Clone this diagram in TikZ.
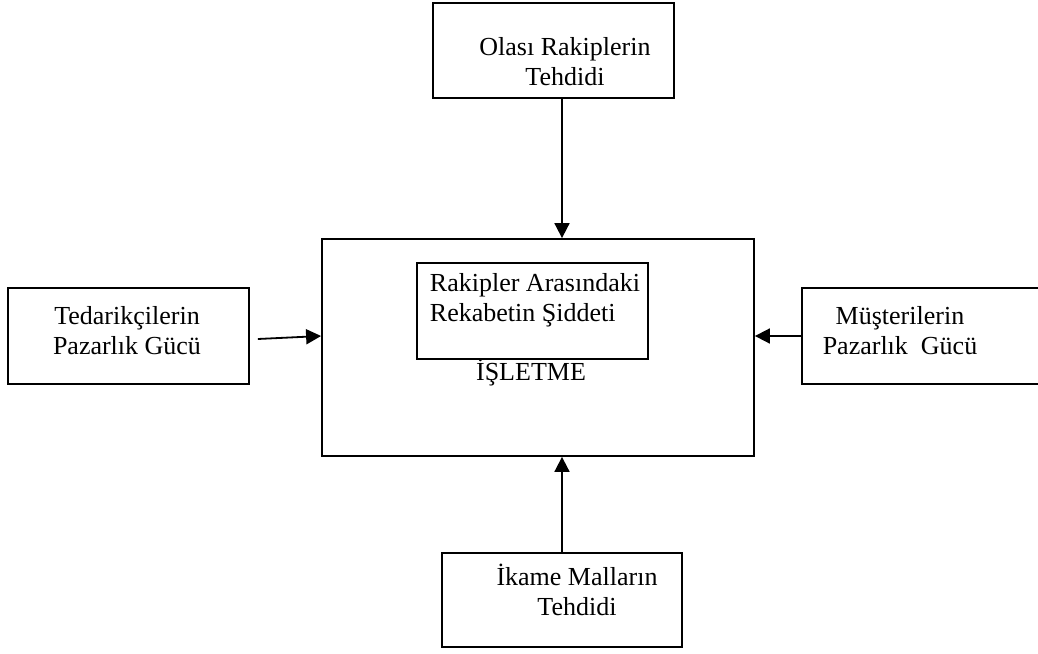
\documentclass[tikz,border=0pt]{standalone}
\usepackage{fontspec}
\setmainfont{Liberation Serif}
\usepackage{tikz}
\usetikzlibrary{arrows.meta,positioning}

\begin{document}
\begin{tikzpicture}[
  x=1pt, y=-1pt,
  font=\fontsize{26}{30}\selectfont,
  >={Triangle[length=15pt, width=15pt]},
  box/.style={draw=black, line width=1.8pt, inner sep=0pt},
  lab/.style={align=center, inner sep=0pt},
  flow/.style={->, line width=1.8pt},
]
\useasboundingbox (0,0) rectangle (1038,653);
% center: firm with the rivalry inside
\node[box, minimum width=432pt, minimum height=217pt] (isletme) at (538,347.5) {};
\node[box, minimum width=231pt, minimum height=96pt] (rekabet) at (532.5,311) {};
\node[lab, align=left] (rekabetlab) at (535,300) {Rakipler Arasındaki\\Rekabetin Şiddeti};
\node[lab] (isletmelab) at (531,373) {İŞLETME};

% the four outer forces
\node[box, minimum width=241pt, minimum height=95pt] (rakip) at (553.5,50.5) {};
\node[lab] (rakiplab) at (565,62) {Olası Rakiplerin\\Tehdidi};
\node[box, minimum width=241pt, minimum height=96pt] (tedarik) at (128.5,336) {};
\node[lab] (tedariklab) at (127,331) {Tedarikçilerin\\Pazarlık Gücü};
\node[box, minimum width=241pt, minimum height=96pt] (musteri) at (922.5,336) {};
\node[lab] (musterilab) at (900,331) {Müşterilerin\\Pazarlık\ \ Gücü};
\node[box, minimum width=240pt, minimum height=94pt] (ikame) at (562,600) {};
\node[lab] (ikamelab) at (577,590) {İkame Malların\\Tehdidi};

% arrows into the firm
\draw[flow] ([xshift=8.5pt]rakip.south) -- ([xshift=8.5pt]rakip.south |- isletme.north);
\draw[flow] ([shift={(8,3)}]tedarik.east) -- (tedarik.east -| isletme.west);
\draw[flow] (musteri.west) -- (musteri.west -| isletme.east);
\draw[flow] (ikame.north) -- (ikame.north |- isletme.south);
\end{tikzpicture}
\end{document}
